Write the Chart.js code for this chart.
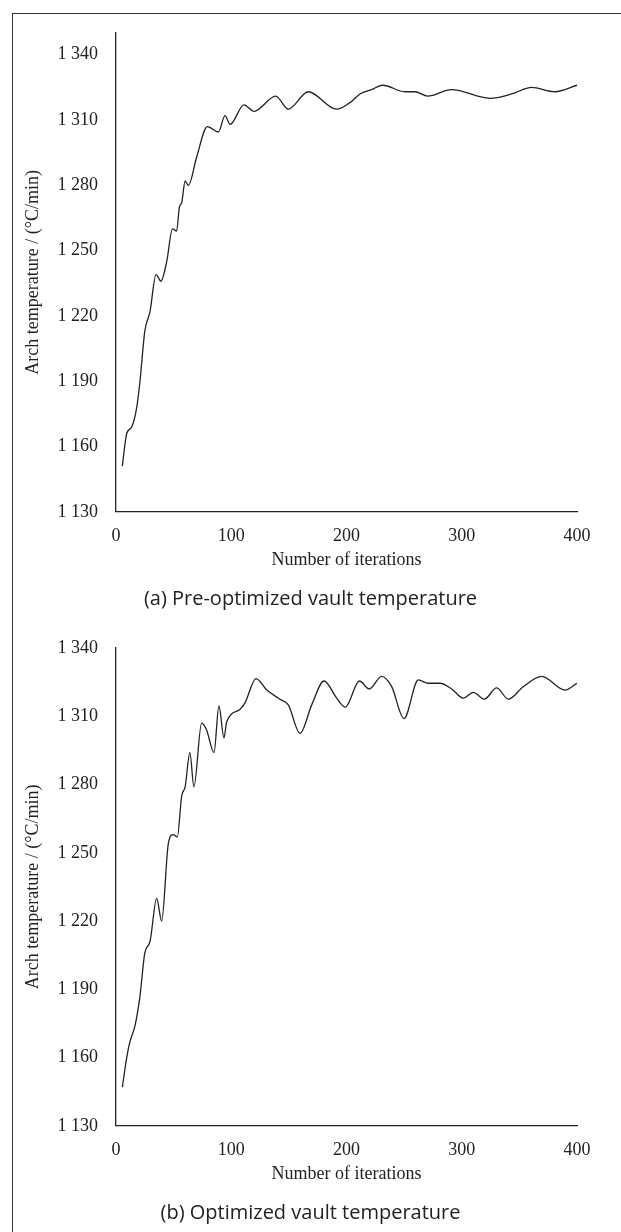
<!DOCTYPE html>
<html>
<head>
<meta charset="utf-8">
<script src="https://cdn.jsdelivr.net/npm/chart.js@4.4.1/dist/chart.umd.min.js"></script>
<style>
	html, body { margin: 0; padding: 0; background: #fff; }
	body { width: 621px; height: 1232px; position: relative; overflow: hidden; }
	#frame { position: absolute; left: 12px; top: 13px; width: 640px; height: 1240px;
		border-left: 1.5px solid #333; border-top: 1.5px solid #333; }
	.box { position: absolute; left: 0; width: 621px; height: 600px; }
	.cap { position: absolute; left: 0; width: 621px; text-align: center; z-index: 2;
		font-family: "Open Sans", "Noto Sans", sans-serif; font-size: 20px; color: #222; }
</style>
</head>
<body>
<div id="frame"></div>
<div class="box" style="top:0px"><canvas id="canPre" width="621" height="600"></canvas></div>
<div class="box" style="top:600px"><canvas id="canOpt" width="621" height="600"></canvas></div>
<div class="cap" id="capPre" style="top:584px">(a) Pre-optimized vault temperature</div>
<div class="cap" id="capOpt" style="top:1198px">(b) Optimized vault temperature</div>

<script>
'use strict'

// 軸の目盛り
const xTicks = [0, 100, 200, 300, 400];
const yTicks = [1130, 1160, 1190, 1220, 1250, 1280, 1310, 1340];
const yTickLabels = ['1 130', '1 160', '1 190', '1 220', '1 250', '1 280', '1 310', '1 340'];

// (a) 最適化前
const preIter = [5.5, 9.3, 13.6, 18, 20.8, 25, 29.5, 34.7, 39, 44, 49, 52.6, 55, 57, 60, 62.8, 70, 79.3, 88.8, 94.6,
	99, 111, 119.7, 138.6, 149.5, 166.8, 191.4, 203, 211.7, 221.8, 231.4, 250.7, 259.4, 270.4, 291.2, 324.5, 343.3, 360.6, 380.8, 400];
const preTemp = [1151, 1166, 1169, 1178, 1190, 1213, 1222, 1239, 1236, 1245, 1260, 1259, 1270, 1272, 1282, 1280, 1293, 1307, 1304.5, 1312,
	1308, 1317, 1314, 1321, 1315, 1323, 1315, 1318, 1322, 1324, 1326, 1323, 1323, 1321, 1324, 1320, 1322, 1325, 1323, 1326];

// (b) 最適化後
const optIter = [5.5, 9.3, 12.1, 16.5, 20.8, 25, 29.5, 35.3, 39.6, 45.4, 49.7, 53.2, 57, 60, 64.1, 67.6, 74.3, 78.6, 85, 89.3,
	93.7, 96, 107.5, 112, 121.5, 130.8, 142.3, 149.5, 159.7, 169.8, 180.5, 191.5, 199, 211.2, 219.8, 230.5, 239.2, 249.9, 262.3, 271,
	281.1, 291.2, 301.3, 310, 319.6, 330.3, 340.4, 353.4, 369.4, 389.6, 400];
const optTemp = [1147, 1160, 1167, 1174, 1187, 1206, 1211, 1230, 1220, 1254, 1258, 1257, 1275, 1279, 1294, 1279, 1307, 1304, 1294, 1314.5,
	1300.5, 1307.5, 1313, 1316, 1326.5, 1321.5, 1317.5, 1315, 1302.5, 1315, 1325.5, 1318, 1314, 1325.5, 1322, 1327.5, 1323, 1309, 1326, 1324.5,
	1324.5, 1322, 1318, 1320.5, 1317.5, 1322.5, 1317.5, 1323, 1327.5, 1321.5, 1324.5];

const serif = '"Liberation Serif", "DejaVu Serif", serif';
const ink = '#222';

let makeChart = function (canvasId, iters, temps, yMax, padTop, padBottom) {
	let pts = [];
	for (let i = 0; i < iters.length; i++) {
		pts.push({ x: iters[i], y: temps[i] });
	}

	return new Chart(document.getElementById(canvasId), {
		type: 'line',
		data: {
			datasets: [{
				data: pts, borderColor: ink, borderWidth: 1.3, pointRadius: 0,
				cubicInterpolationMode: 'monotone', fill: false
			}]
		},
		options: {
			responsive: false,
			animation: false,
			layout: { padding: { left: 18, top: padTop, right: 44, bottom: padBottom } },
			plugins: { legend: { display: false }, tooltip: { enabled: false } },
			scales: {
				x: {
					type: 'linear', min: 0, max: 400,
					grid: { display: false, drawTicks: false },
					border: { display: true, color: ink, width: 1.3 },
					afterBuildTicks: (s) => { s.ticks = xTicks.map(v => ({ value: v })); },
					ticks: { color: ink, font: { family: serif, size: 18 }, padding: 14, maxRotation: 0 },
					title: { display: true, text: 'Number of iterations', color: ink,
						font: { family: serif, size: 18 }, padding: { top: -12, bottom: 4 } }
				},
				y: {
					type: 'linear', min: 1130, max: yMax,
					grid: { display: false, drawTicks: false },
					border: { display: true, color: ink, width: 1.3 },
					afterBuildTicks: (s) => { s.ticks = yTicks.map(v => ({ value: v })); },
					afterFit: (s) => { s.width = 98; },
					ticks: {
						color: ink, font: { family: serif, size: 18 }, padding: 18,
						callback: (v) => yTickLabels[yTicks.indexOf(v)]
					},
					title: { display: true, text: 'Arch temperature / (°C/min)', color: ink,
						font: { family: serif, size: 18 }, padding: { top: 4, bottom: 4 } }
				}
			}
		}
	});
};

makeChart('canPre', preIter, preTemp, 1350, 33, 25);
makeChart('canOpt', optIter, optTemp, 1340, 48, 11);
</script>
</body>
</html>
